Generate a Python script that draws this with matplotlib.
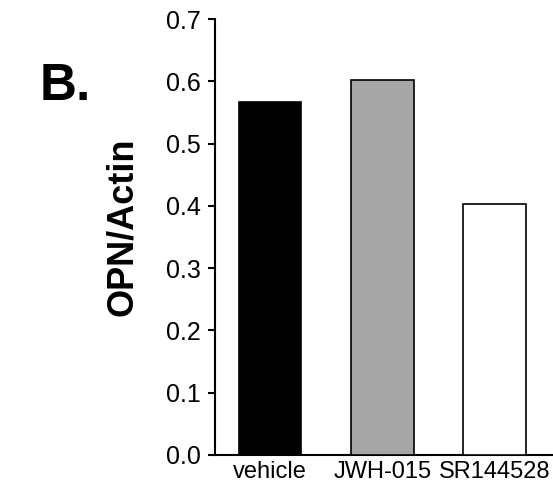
import matplotlib
matplotlib.use("Agg")
import matplotlib.pyplot as plt

categories = ["vehicle", "JWH-015", "SR144528"]
values = [0.567, 0.602, 0.403]
colors = ["#000000", "#a6a6a6", "#ffffff"]
yticks = [0.0, 0.1, 0.2, 0.3, 0.4, 0.5, 0.6, 0.7]

plt.rcParams['font.family'] = ['Liberation Sans', 'DejaVu Sans']

fig = plt.figure(figsize=(5.53, 4.87), dpi=100)
ax = fig.add_axes([215/553, 32/487, 1 - 215/553, (455-19)/487])

x = range(len(categories))
ax.bar(x, values, width=0.56, color=colors, edgecolor="black", linewidth=1.2, zorder=3)

ax.set_xlim(-0.49, 2.52)
ax.set_ylim(0, 0.7)
ax.set_yticks(yticks)
ax.set_yticklabels([f"{t:.1f}" for t in yticks])
ax.set_xticks(list(x))
ax.set_xticklabels(categories, fontsize=17)

ax.spines['top'].set_visible(False)
ax.spines['right'].set_visible(False)
ax.spines['left'].set_linewidth(1.5)
ax.spines['bottom'].set_linewidth(1.5)
ax.tick_params(axis='y', direction='out', length=5, width=1.5, labelsize=18, pad=5)
ax.tick_params(axis='x', length=0, pad=4)

ax.set_ylabel("OPN/Actin", fontsize=26, fontweight='bold')
ax.yaxis.set_label_coords(-0.222, 0.523)
fig.text(40/553, 1 - 100/487, "B.", fontsize=37, fontweight='bold', ha='left', va='baseline')

fig.savefig("out.png", dpi=100)
